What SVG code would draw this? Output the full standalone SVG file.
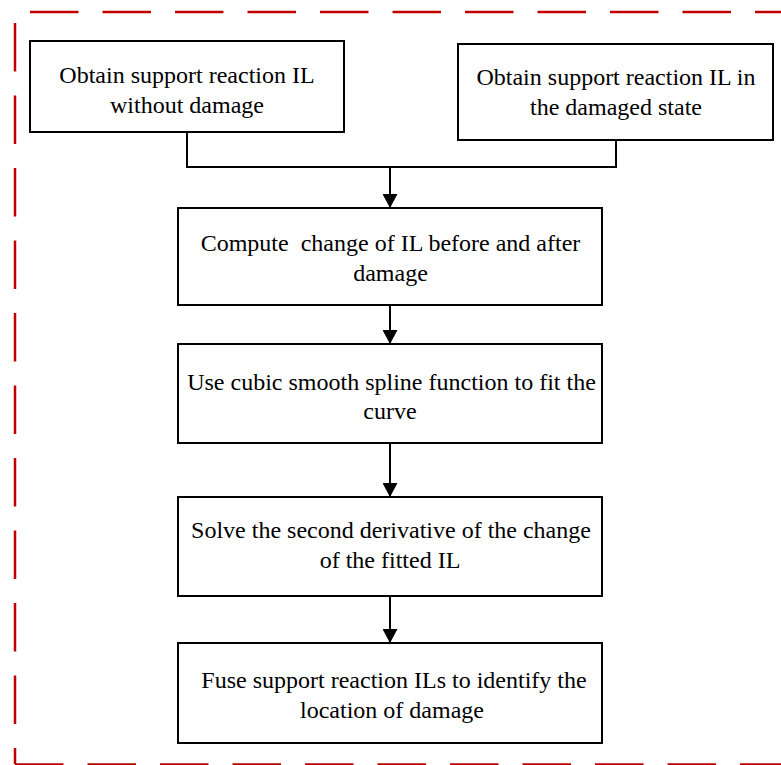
<svg xmlns="http://www.w3.org/2000/svg" width="781" height="765" viewBox="0 0 781 765">
<style>
.box{fill:#fff;stroke:#000;stroke-width:2}
.t{font-family:"Liberation Serif","Times New Roman",serif;font-size:24px;fill:#000;text-anchor:middle}
.border{stroke:#c00000;stroke-width:2.5;stroke-dasharray:48.5 24;fill:none}
.c{stroke:#000;stroke-width:2;fill:none}
</style>
<defs>
<marker id="arr" viewBox="0 0 14 15" refX="14" refY="7.5" markerWidth="14" markerHeight="15" markerUnits="userSpaceOnUse" orient="auto">
<path d="M0,0 L14,7.5 L0,15 z" fill="#000"/>
</marker>
</defs>
<g id="frame">
<line class="border" x1="30" y1="12" x2="781" y2="12"/>
<line class="border" x1="15" y1="23" x2="15" y2="764"/>
<line class="border" x1="15" y1="764.5" x2="781" y2="764.5"/>
</g>
<g id="connectors">
<polyline class="c" points="187,132 187,167 616,167 616,140"/>
<line class="c" x1="390" y1="167" x2="390" y2="208" marker-end="url(#arr)"/>
<line class="c" x1="390" y1="305" x2="390" y2="344" marker-end="url(#arr)"/>
<line class="c" x1="390" y1="443" x2="390" y2="497" marker-end="url(#arr)"/>
<line class="c" x1="390" y1="596" x2="390" y2="643" marker-end="url(#arr)"/>
</g>
<g id="n1">
<rect class="box" x="30" y="41" width="314" height="91"/>
<text class="t" x="187" y="83">Obtain support reaction IL</text>
<text class="t" x="187" y="113">without damage</text>
</g>
<g id="n2">
<rect class="box" x="458" y="44" width="315" height="96"/>
<text class="t" x="616" y="85">Obtain support reaction IL in</text>
<text class="t" x="616" y="115">the damaged state</text>
</g>
<g id="n3">
<rect class="box" x="178" y="208" width="424" height="97"/>
<text class="t" x="390.5" y="251" xml:space="preserve">Compute  change of IL before and after</text>
<text class="t" x="390.5" y="281">damage</text>
</g>
<g id="n4">
<rect class="box" x="178" y="344" width="424" height="99"/>
<text class="t" x="391.5" y="390">Use cubic smooth spline function to fit the</text>
<text class="t" x="390" y="419">curve</text>
</g>
<g id="n5">
<rect class="box" x="178" y="497" width="424" height="99"/>
<text class="t" x="391" y="538">Solve the second derivative of the change</text>
<text class="t" x="390" y="568">of the fitted IL</text>
</g>
<g id="n6">
<rect class="box" x="178" y="643" width="424" height="100"/>
<text class="t" x="394" y="688">Fuse support reaction ILs to identify the</text>
<text class="t" x="392" y="718">location of damage</text>
</g>
</svg>
